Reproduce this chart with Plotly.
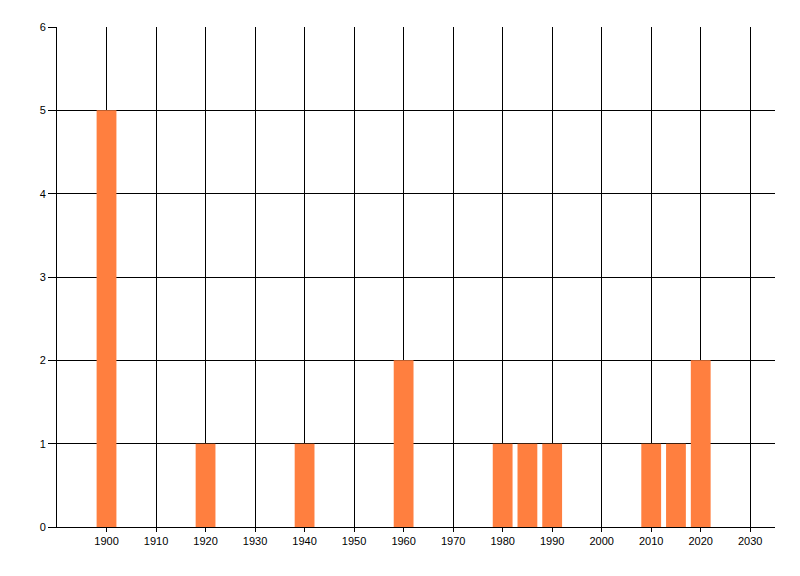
import plotly.graph_objects as go

# values
years = [1900, 1920, 1940, 1960, 1980, 1985, 1990, 2010, 2015, 2020]
counts = [5, 1, 1, 2, 1, 1, 1, 1, 1, 2]

x_ticks = list(range(1900, 2031, 10))
x_labels = [str(t) for t in x_ticks]
y_ticks = [0, 1, 2, 3, 4, 5, 6]

fig = go.Figure(
    data=[go.Bar(x=years, y=counts, width=4, marker=dict(color='#FF7F3F', line=dict(width=0)))]
)

# the page body adds an 8px offset, so margins are trimmed to match
fig.update_layout(
    width=800, height=576,
    paper_bgcolor='white',
    plot_bgcolor='white',
    showlegend=False,
    margin=dict(l=49, r=33, t=19, b=57),
    font=dict(family='Liberation Sans', size=11, color='black'),
    xaxis=dict(
        range=[1890, 2035],
        tickvals=x_ticks, ticktext=x_labels,
        showgrid=True, gridcolor='black', gridwidth=1,
        zeroline=False,
        showline=True, linecolor='black', linewidth=1,
        ticks='outside', ticklen=4, tickcolor='black',
    ),
    yaxis=dict(
        range=[0, 6],
        tickvals=y_ticks,
        showgrid=True, gridcolor='black', gridwidth=1,
        zeroline=False,
        showline=True, linecolor='black', linewidth=1,
        ticks='outside', ticklen=8, tickcolor='black',
    ),
)

fig.write_html("out.html")
